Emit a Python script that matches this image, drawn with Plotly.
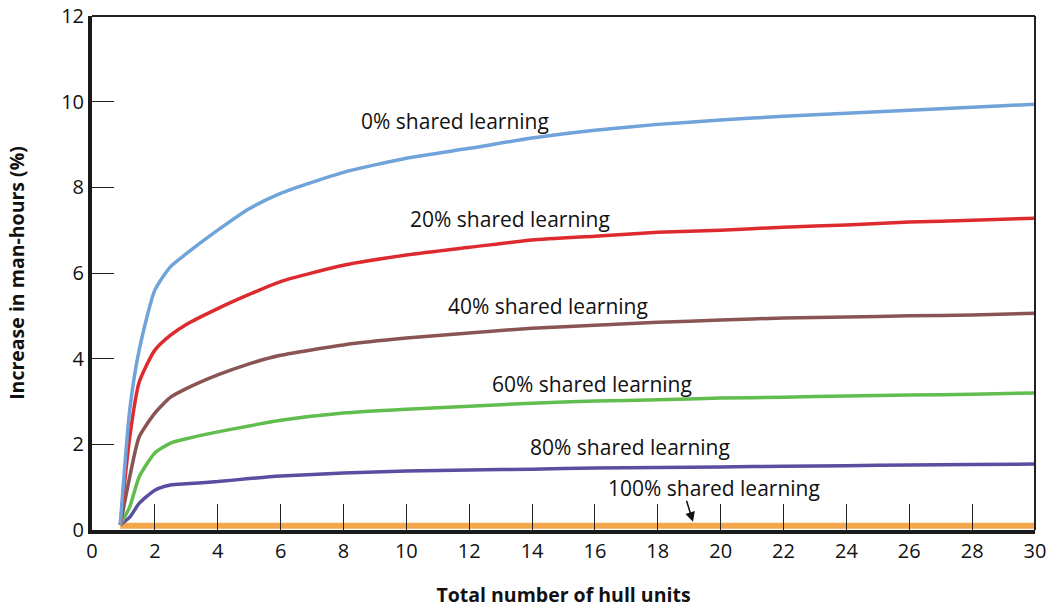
import plotly.graph_objects as go

x_units = [0.9, 1.2, 1.5, 2, 2.5, 3, 4, 5, 6, 8, 10, 12, 14, 16, 18, 20, 22, 24, 26, 28, 30]
y_0pct  = [0.12, 2.8, 4.2, 5.6, 6.15, 6.45, 7.0, 7.5, 7.86, 8.35, 8.68, 8.91, 9.15, 9.33, 9.47, 9.57, 9.66, 9.73, 9.8, 9.87, 9.94]
y_20pct = [0.12, 2.17, 3.45, 4.2, 4.55, 4.8, 5.17, 5.5, 5.8, 6.18, 6.42, 6.6, 6.77, 6.86, 6.95, 7.0, 7.07, 7.12, 7.19, 7.23, 7.28]
y_40pct = [0.12, 1.24, 2.17, 2.73, 3.1, 3.3, 3.62, 3.88, 4.08, 4.32, 4.48, 4.6, 4.71, 4.78, 4.85, 4.9, 4.95, 4.97, 5.0, 5.02, 5.06]
y_60pct = [0.12, 0.54, 1.24, 1.8, 2.03, 2.13, 2.29, 2.43, 2.56, 2.73, 2.82, 2.89, 2.96, 3.01, 3.04, 3.08, 3.1, 3.13, 3.15, 3.17, 3.2]
y_80pct = [0.12, 0.3, 0.62, 0.93, 1.05, 1.08, 1.13, 1.2, 1.26, 1.33, 1.38, 1.4, 1.42, 1.45, 1.46, 1.47, 1.49, 1.5, 1.52, 1.53, 1.54]
y_100pct = [0.1] * len(x_units)

series = [
    ("0% shared learning", y_0pct, "#6fa3d9"),
    ("20% shared learning", y_20pct, "#dd2a2f"),
    ("40% shared learning", y_40pct, "#8a5454"),
    ("60% shared learning", y_60pct, "#62bd4f"),
    ("80% shared learning", y_80pct, "#5a4ea0"),
]

labels = ["0% shared learning", "20% shared learning", "40% shared learning",
          "60% shared learning", "80% shared learning", "100% shared learning"]
label_x = [11.55, 13.3, 14.5, 15.9, 17.1, 19.8]
label_y = [9.55, 7.27, 5.23, 3.42, 1.93, 0.97]

fig = go.Figure()
fig.add_trace(go.Scatter(x=x_units, y=y_100pct, mode="lines",
                         line=dict(color="#f5a54a", width=6), showlegend=False))
for name, ys, col in series[::-1]:
    fig.add_trace(go.Scatter(x=x_units, y=ys, mode="lines", name=name,
                             line=dict(color=col, width=3.5, shape="spline", smoothing=0.6),
                             showlegend=False))

for t, lx, ly in zip(labels, label_x, label_y):
    fig.add_annotation(x=lx, y=ly, text=t, showarrow=False,
                       font=dict(size=21, color="#111111", family="Open Sans"))

fig.add_annotation(x=19.12, y=0.19, ax=18.9, ay=0.72, axref="x", ayref="y",
                   xref="x", yref="y", text="", showarrow=True,
                   arrowhead=2, arrowsize=1.3, arrowwidth=1.5, arrowcolor="#111111")

# thin top and right frame
fig.add_shape(type="line", xref="paper", yref="paper", x0=0, x1=1, y0=1, y1=1,
              line=dict(color="#222222", width=2))
fig.add_shape(type="line", xref="paper", yref="paper", x0=1, x1=1, y0=0, y1=1,
              line=dict(color="#222222", width=2))

fig.update_layout(
    width=1052, height=608,
    margin=dict(l=92, r=17, t=16, b=78, autoexpand=False),
    plot_bgcolor="white", paper_bgcolor="white",
    font=dict(family="Open Sans", color="#111111"),
    xaxis=dict(range=[0, 30], tickvals=list(range(0, 31, 2)), ticks="inside",
               ticklen=26, tickwidth=1.3, tickcolor="#222222",
               showline=True, linewidth=4, linecolor="#1a1a1a",
               showgrid=False, zeroline=False, automargin=False,
               tickfont=dict(size=20, color="#111111"),
               title=dict(text="<b>Total number of hull units</b>", font=dict(size=19.5), standoff=30)),
    yaxis=dict(range=[0, 12], tickvals=list(range(0, 13, 2)), ticks="inside",
               ticklen=22, tickwidth=1.3, tickcolor="#222222",
               showline=True, linewidth=4, linecolor="#1a1a1a",
               showgrid=False, zeroline=False, automargin=False,
               tickfont=dict(size=20, color="#111111"),
               title=dict(text="<b>Increase in man-hours (%)</b>", font=dict(size=19.5), standoff=32)),
)

fig.write_html("out.html", config={"displayModeBar": False},
               post_script="document.body.style.margin='0';")
